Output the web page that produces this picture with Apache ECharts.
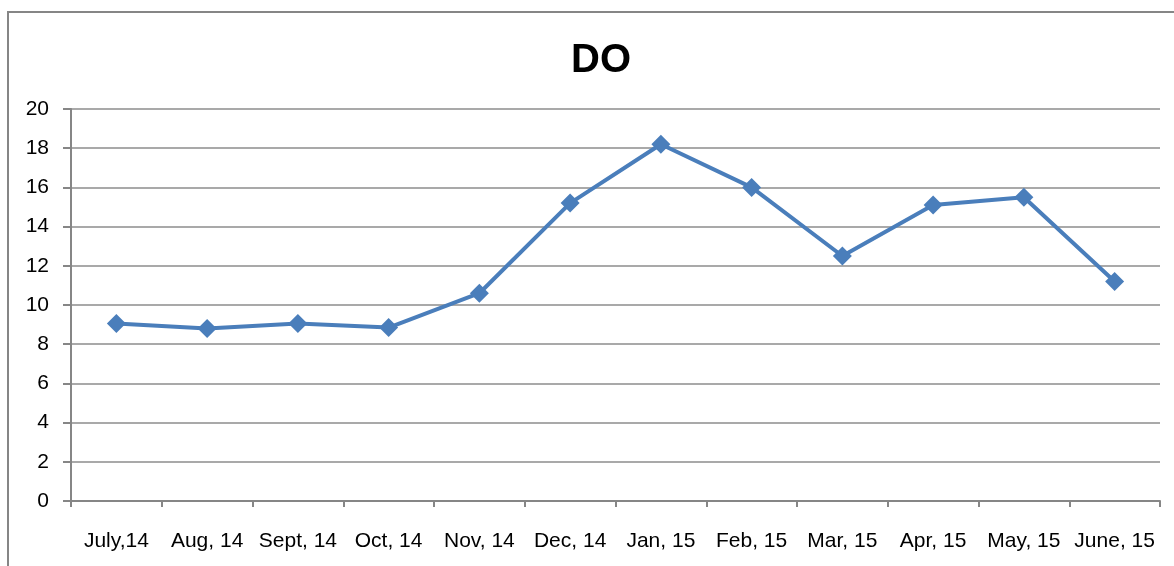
<!DOCTYPE html>
<html>
<head>
<meta charset="utf-8">
<script src="https://cdn.jsdelivr.net/npm/echarts@6/dist/echarts.min.js"></script>
<style>
  html, body { margin: 0; padding: 0; background: #fff; }
  #chart { width: 1174px; height: 566px; }
</style>
</head>
<body>
<div id="chart"></div>
<script>
// 月份
const months = ['July,14', 'Aug, 14', 'Sept, 14', 'Oct, 14', 'Nov, 14', 'Dec, 14',
  'Jan, 15', 'Feb, 15', 'Mar, 15', 'Apr, 15', 'May, 15', 'June, 15']
// DO 值
const doValues = [9.05, 8.8, 9.05, 8.85, 10.6, 15.2, 18.2, 16.0, 12.5, 15.1, 15.5, 11.2]
const yTicks = { min: 0, max: 20, interval: 2 }

const myChart = echarts.init(document.getElementById('chart'))
const labelFont = 'Liberation Sans, Arial, sans-serif'

const option = {
  animation: false,
  // 外框
  graphic: [{
    type: 'rect',
    shape: { x: 8, y: 12, width: 1300, height: 700 },
    style: { fill: 'none', stroke: '#868686', lineWidth: 2 },
    silent: true
  }],
  title: {
    text: 'DO',
    left: 596,
    top: 36,
    textAlign: 'center',
    textStyle: { fontFamily: labelFont, fontWeight: 'bold', fontSize: 40, color: '#000' }
  },
  grid: { left: 71, right: 14, top: 109, bottom: 65 },
  xAxis: {
    type: 'category',
    data: months,
    boundaryGap: true,
    axisLine: { lineStyle: { color: '#868686', width: 2 } },
    axisTick: { show: true, length: 6, lineStyle: { color: '#868686', width: 2 } },
    axisLabel: { interval: 0, margin: 30, fontFamily: labelFont, fontSize: 21, color: '#000' }
  },
  yAxis: {
    type: 'value',
    min: yTicks.min,
    max: yTicks.max,
    interval: yTicks.interval,
    axisLine: { show: true, lineStyle: { color: '#868686', width: 2 } },
    axisTick: { show: true, length: 8, lineStyle: { color: '#868686', width: 2 } },
    axisLabel: { margin: 22, fontFamily: labelFont, fontSize: 21, color: '#000' },
    splitLine: { lineStyle: { color: '#8c8c8c', width: 1.5 } }
  },
  series: [{
    type: 'line',
    data: doValues,
    symbol: 'diamond',
    symbolSize: 19,
    lineStyle: { color: '#4a7ebb', width: 4 },
    itemStyle: { color: '#4a7ebb' }
  }]
}
myChart.setOption(option)
</script>
</body>
</html>
